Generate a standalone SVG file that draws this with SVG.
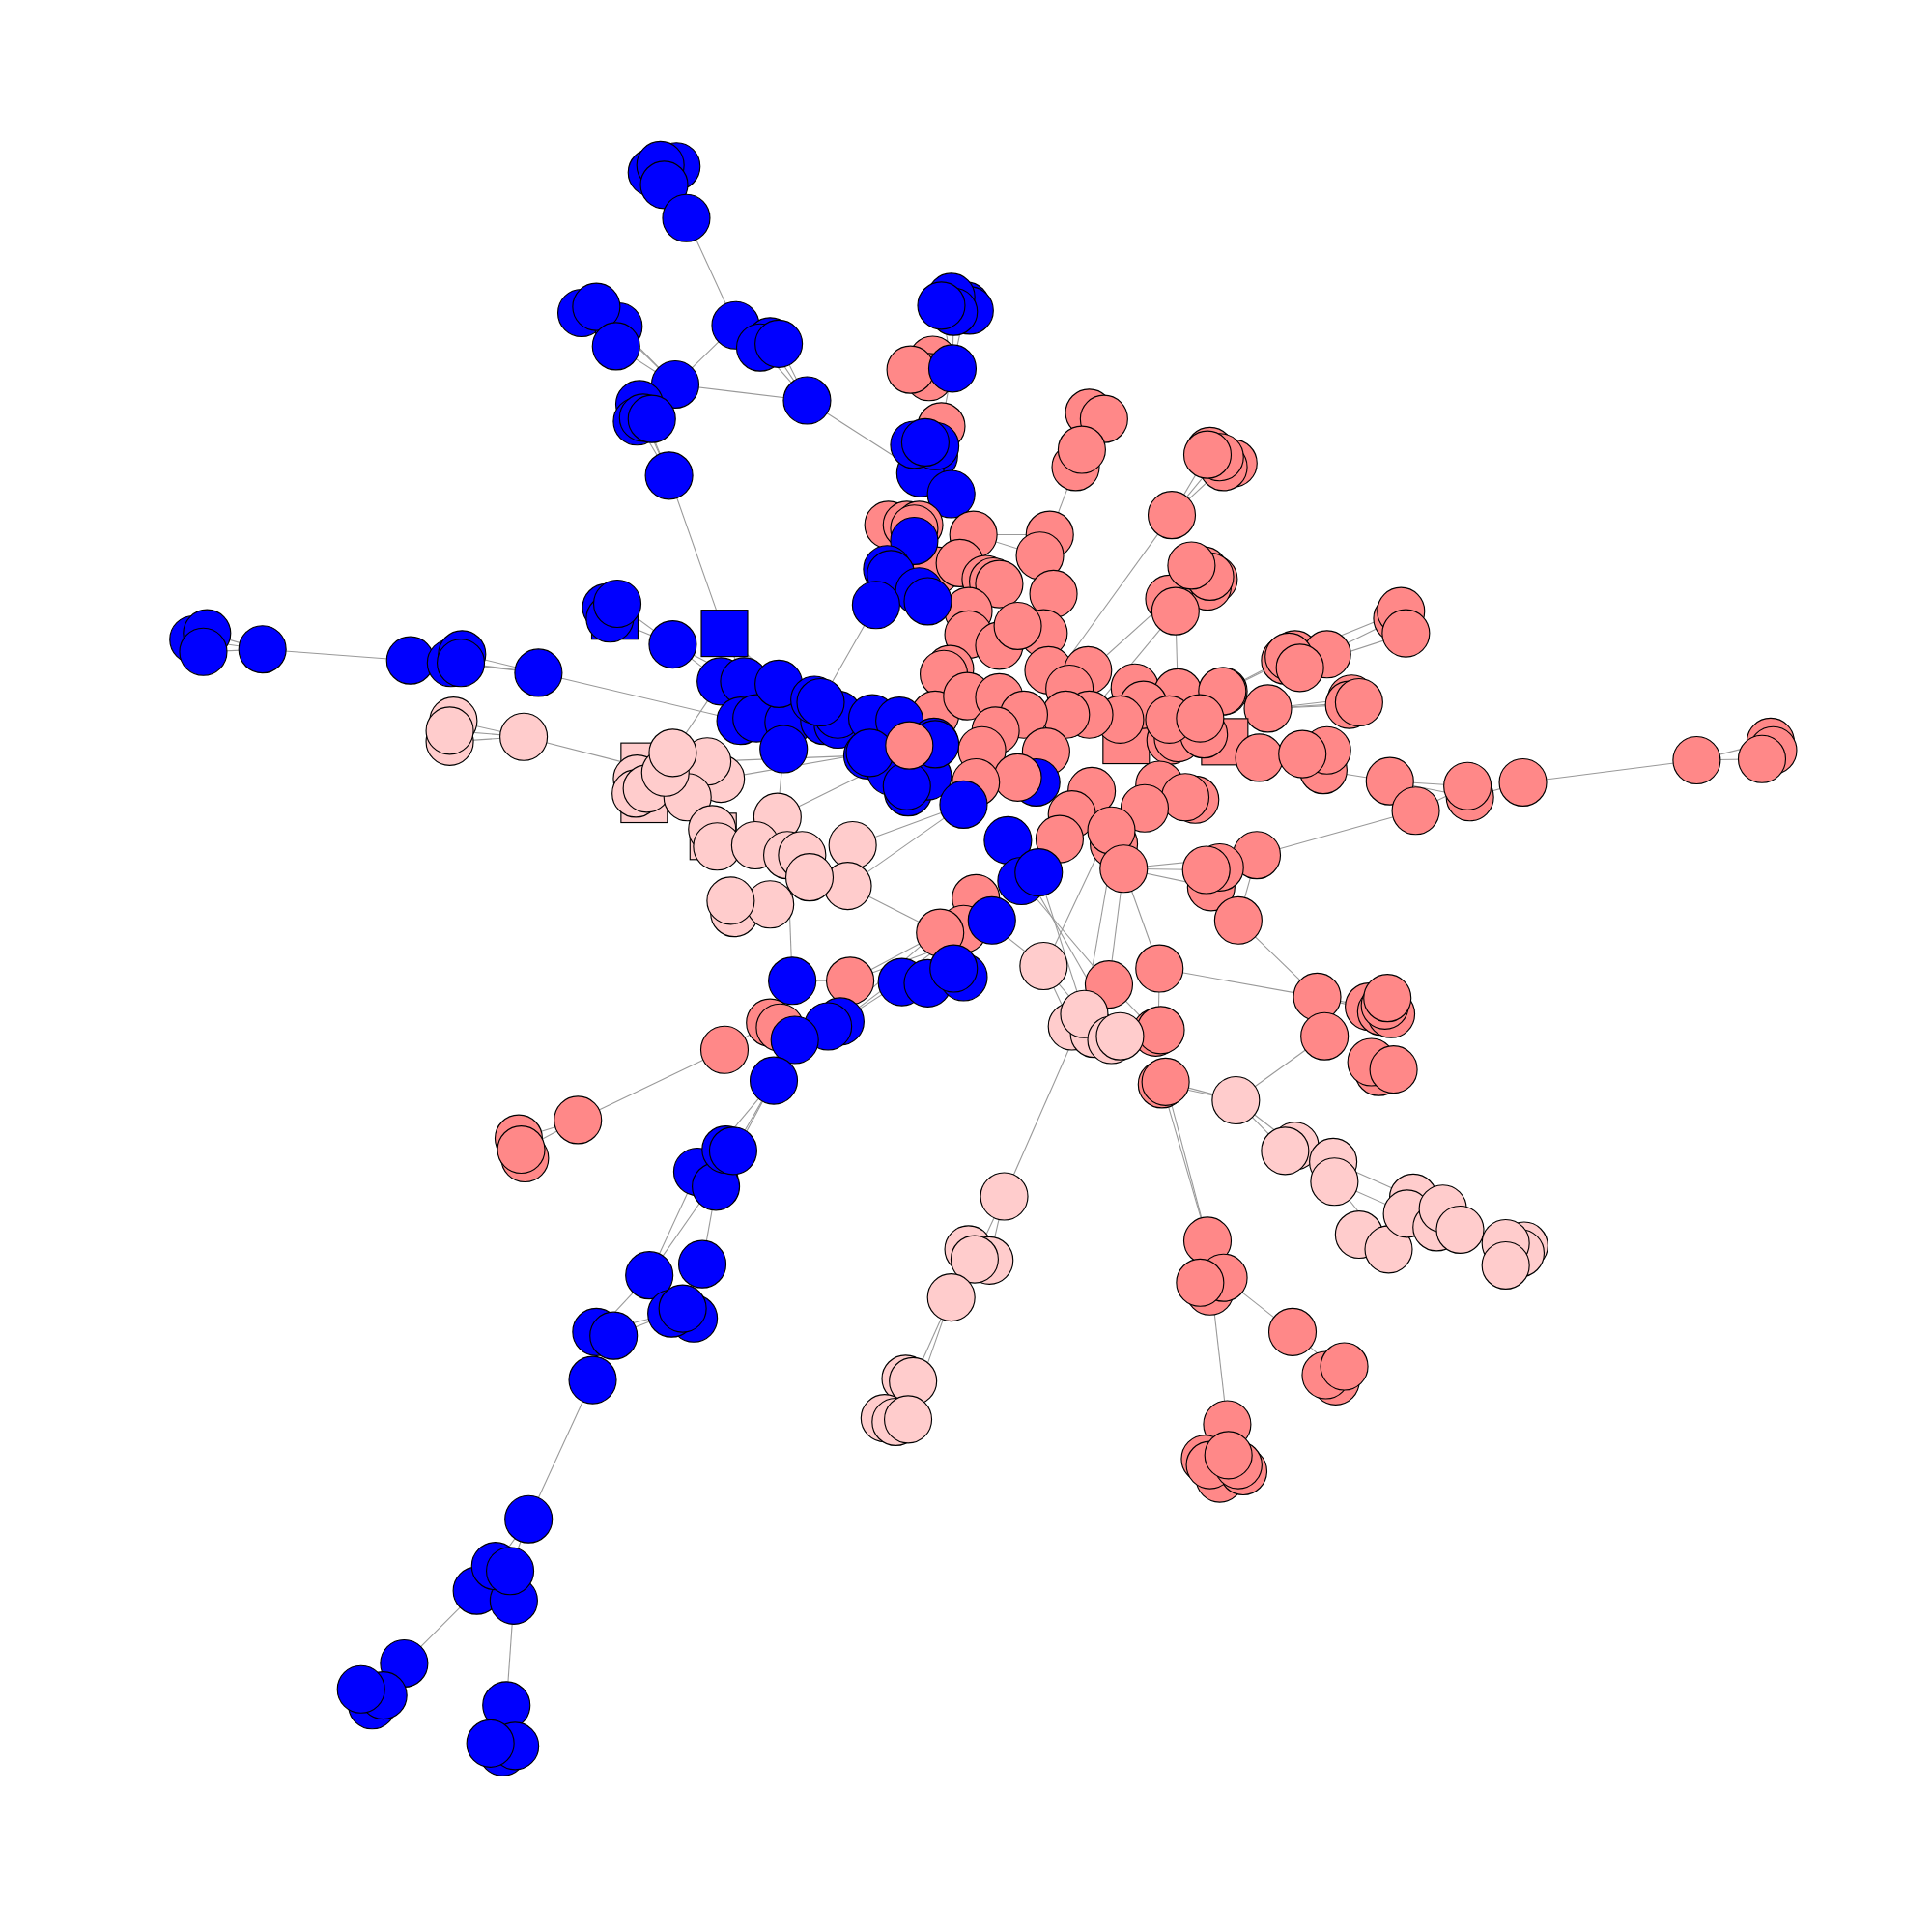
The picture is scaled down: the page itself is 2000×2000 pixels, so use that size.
<svg xmlns="http://www.w3.org/2000/svg" width="2000" height="2000" viewBox="0 0 2000 2000">
<style>
.b{fill:#0000ff;stroke:#000;stroke-width:0.9}
.s{fill:#ff8888;stroke:#000;stroke-width:0.9}
.p{fill:#ffcccc;stroke:#000;stroke-width:0.9}
#edges line{stroke:#999;stroke-width:0.85}
</style>
<rect width="2000" height="2000" fill="#fff"/>
<g transform="scale(1.27551)">
<g id="edges">
<line x1="557" y1="177" x2="597" y2="264"/><line x1="548" y1="312" x2="597" y2="264"/><line x1="548" y1="312" x2="655" y2="325"/>
<line x1="655" y1="325" x2="625" y2="280"/><line x1="655" y1="325" x2="632" y2="279"/><line x1="655" y1="325" x2="617" y2="282"/>
<line x1="655" y1="325" x2="747" y2="384"/>
<line x1="500" y1="281" x2="548" y2="312"/><line x1="502" y1="265" x2="548" y2="312"/><line x1="484" y1="249" x2="548" y2="312"/>
<line x1="519" y1="328" x2="543" y2="386"/><line x1="529" y1="340" x2="548" y2="312"/><line x1="517" y1="342" x2="543" y2="386"/><line x1="522" y1="339" x2="543" y2="386"/>
<line x1="543" y1="386" x2="588" y2="514"/>
<line x1="213" y1="527" x2="165" y2="529"/><line x1="213" y1="527" x2="168" y2="514"/><line x1="213" y1="527" x2="157" y2="519"/>
<line x1="213" y1="527" x2="333" y2="536"/>
<line x1="375" y1="531" x2="437" y2="546"/><line x1="366" y1="538" x2="437" y2="546"/><line x1="374" y1="538" x2="437" y2="546"/>
<line x1="437" y1="546" x2="601" y2="585"/>
<line x1="495" y1="502" x2="546" y2="523"/><line x1="501" y1="490" x2="546" y2="523"/>
<line x1="546" y1="523" x2="585" y2="553"/><line x1="546" y1="523" x2="604" y2="553"/><line x1="588" y1="514" x2="604" y2="553"/><line x1="588" y1="514" x2="632" y2="555"/>
<line x1="365" y1="593" x2="425" y2="598"/><line x1="368" y1="585" x2="425" y2="598"/><line x1="365" y1="602" x2="425" y2="598"/>
<line x1="425" y1="598" x2="519" y2="622"/>
<line x1="574" y1="618" x2="704" y2="613"/><line x1="585" y1="632" x2="706" y2="611"/><line x1="546" y1="611" x2="585" y2="553"/>
<line x1="631" y1="663" x2="706" y2="626"/>
<line x1="692" y1="686" x2="782" y2="653"/><line x1="688" y1="719" x2="782" y2="653"/>
<line x1="688" y1="719" x2="763" y2="757"/>
<line x1="636" y1="608" x2="631" y2="663"/>
<line x1="639" y1="694" x2="643" y2="796"/>
<line x1="643" y1="796" x2="690" y2="796"/>
<line x1="690" y1="796" x2="763" y2="757"/><line x1="690" y1="796" x2="789" y2="760"/><line x1="682" y1="829" x2="789" y2="760"/><line x1="672" y1="833" x2="792" y2="729"/><line x1="682" y1="829" x2="782" y2="754"/>
<line x1="628" y1="877" x2="645" y2="844"/><line x1="628" y1="877" x2="633" y2="834"/>
<line x1="588" y1="852" x2="625" y2="830"/><line x1="469" y1="909" x2="588" y2="852"/><line x1="426" y1="932" x2="469" y2="909"/><line x1="421" y1="924" x2="469" y2="909"/>
<line x1="595" y1="934" x2="628" y2="877"/><line x1="566" y1="951" x2="628" y2="877"/><line x1="581" y1="965" x2="628" y2="877"/>
<line x1="570" y1="1026" x2="581" y2="965"/><line x1="527" y1="1035" x2="580" y2="959"/><line x1="527" y1="1035" x2="566" y2="951"/>
<line x1="484" y1="1081" x2="545" y2="1066"/><line x1="498" y1="1084" x2="554" y2="1062"/><line x1="484" y1="1081" x2="527" y2="1035"/>
<line x1="481" y1="1120" x2="429" y2="1233"/>
<line x1="429" y1="1233" x2="402" y2="1271"/><line x1="429" y1="1233" x2="414" y2="1275"/>
<line x1="387" y1="1291" x2="328" y2="1350"/><line x1="328" y1="1350" x2="302" y2="1384"/><line x1="328" y1="1350" x2="293" y2="1371"/>
<line x1="417" y1="1299" x2="411" y2="1384"/><line x1="411" y1="1384" x2="398" y2="1415"/>
<line x1="711" y1="491" x2="666" y2="570"/>
<line x1="772" y1="401" x2="742" y2="439"/>
<line x1="764" y1="248" x2="773" y2="299"/><line x1="774" y1="253" x2="773" y2="299"/><line x1="784" y1="248" x2="773" y2="299"/>
<line x1="773" y1="299" x2="764" y2="346"/><line x1="764" y1="346" x2="751" y2="359"/>
<line x1="951" y1="418" x2="982" y2="366"/><line x1="951" y1="418" x2="993" y2="379"/><line x1="951" y1="418" x2="990" y2="371"/>
<line x1="951" y1="418" x2="870" y2="530"/>
<line x1="873" y1="379" x2="852" y2="434"/>
<line x1="954" y1="496" x2="884" y2="580"/><line x1="949" y1="486" x2="868" y2="559"/><line x1="954" y1="496" x2="956" y2="562"/>
<line x1="1134" y1="502" x2="1053" y2="542"/><line x1="1141" y1="514" x2="1055" y2="542"/><line x1="1137" y1="496" x2="1051" y2="531"/>
<line x1="1097" y1="567" x2="1029" y2="575"/><line x1="1103" y1="570" x2="1029" y2="575"/><line x1="1095" y1="572" x2="1029" y2="575"/>
<line x1="1046" y1="533" x2="992" y2="561"/><line x1="1043" y1="536" x2="993" y2="561"/>
<line x1="1128" y1="634" x2="1022" y2="617"/>
<line x1="1128" y1="634" x2="1191" y2="638"/><line x1="1128" y1="634" x2="1193" y2="647"/><line x1="1149" y1="658" x2="1191" y2="638"/>
<line x1="1236" y1="635" x2="1377" y2="617"/>
<line x1="1377" y1="617" x2="1437" y2="602"/><line x1="1377" y1="617" x2="1430" y2="616"/>
<line x1="1236" y1="635" x2="1193" y2="647"/>
<line x1="1149" y1="658" x2="1020" y2="694"/>
<line x1="1020" y1="694" x2="912" y2="705"/><line x1="1020" y1="694" x2="1005" y2="747"/>
<line x1="912" y1="705" x2="979" y2="706"/><line x1="912" y1="705" x2="983" y2="720"/>
<line x1="1005" y1="747" x2="1069" y2="809"/>
<line x1="941" y1="786" x2="1069" y2="809"/>
<line x1="1069" y1="809" x2="1111" y2="817"/><line x1="1069" y1="809" x2="1124" y2="823"/>
<line x1="1075" y1="841" x2="1003" y2="893"/>
<line x1="1003" y1="893" x2="946" y2="878"/><line x1="1003" y1="893" x2="943" y2="880"/>
<line x1="1003" y1="893" x2="1043" y2="934"/><line x1="1003" y1="893" x2="1051" y2="930"/>
<line x1="1083" y1="959" x2="1142" y2="985"/><line x1="1082" y1="943" x2="1147" y2="972"/><line x1="1083" y1="959" x2="1127" y2="1014"/>
<line x1="1185" y1="998" x2="1222" y2="1009"/><line x1="1185" y1="998" x2="1234" y2="1017"/>
<line x1="946" y1="878" x2="980" y2="1007"/><line x1="943" y1="880" x2="980" y2="1007"/>
<line x1="980" y1="1007" x2="983" y2="1043"/>
<line x1="993" y1="1037" x2="1049" y2="1081"/><line x1="1049" y1="1081" x2="1084" y2="1111"/>
<line x1="983" y1="1043" x2="996" y2="1156"/>
<line x1="815" y1="971" x2="880" y2="823"/>
<line x1="815" y1="971" x2="791" y2="1022"/><line x1="815" y1="971" x2="803" y2="1023"/>
<line x1="791" y1="1024" x2="772" y2="1052"/>
<line x1="772" y1="1052" x2="741" y2="1121"/><line x1="772" y1="1052" x2="737" y2="1152"/>
<line x1="847" y1="784" x2="880" y2="823"/><line x1="847" y1="784" x2="870" y2="833"/>
<line x1="847" y1="784" x2="805" y2="751"/>
<line x1="912" y1="705" x2="900" y2="799"/><line x1="912" y1="705" x2="941" y2="786"/>
<line x1="843" y1="708" x2="880" y2="823"/><line x1="829" y1="715" x2="900" y2="799"/><line x1="818" y1="682" x2="909" y2="841"/>
<line x1="900" y1="674" x2="850" y2="780"/>
<line x1="904" y1="685" x2="880" y2="823"/>
<line x1="941" y1="786" x2="940" y2="840"/>
<line x1="900" y1="798" x2="938" y2="838"/>
<line x1="1004" y1="747" x2="983" y2="720"/>
<line x1="852" y1="434" x2="790" y2="434"/><line x1="844" y1="451" x2="790" y2="434"/>
</g>
<g id="n1"><circle class="b" cx="529" cy="140" r="19.2"/></g>
<g id="n2"><circle class="b" cx="549" cy="135" r="19.2"/></g>
<g id="n3"><circle class="b" cx="536" cy="134" r="19.2"/></g>
<g id="n4"><circle class="b" cx="539" cy="150" r="19.2"/></g>
<g id="n5"><circle class="b" cx="557" cy="177" r="19.2"/></g>
<g id="n6"><circle class="b" cx="597" cy="264" r="19.2"/></g>
<g id="n7"><circle class="b" cx="625" cy="277" r="19.2"/></g>
<g id="n8"><circle class="b" cx="617" cy="282" r="19.2"/></g>
<g id="n9"><circle class="b" cx="632" cy="279" r="19.2"/></g>
<g id="n10"><circle class="b" cx="655" cy="325" r="19.2"/></g>
<g id="n11"><circle class="b" cx="472" cy="254" r="19.2"/></g>
<g id="n12"><circle class="b" cx="502" cy="265" r="19.2"/></g>
<g id="n13"><circle class="b" cx="484" cy="249" r="19.2"/></g>
<g id="n14"><circle class="b" cx="500" cy="281" r="19.2"/></g>
<g id="n15"><circle class="b" cx="548" cy="312" r="19.2"/></g>
<g id="n16"><circle class="b" cx="519" cy="328" r="19.2"/></g>
<g id="n17"><circle class="b" cx="517" cy="342" r="19.2"/></g>
<g id="n18"><circle class="b" cx="522" cy="339" r="19.2"/></g>
<g id="n19"><circle class="b" cx="529" cy="340" r="19.2"/></g>
<g id="n20"><circle class="b" cx="543" cy="386" r="19.2"/></g>
<g id="n21"><circle class="b" cx="784" cy="248" r="19.2"/></g>
<g id="n22"><circle class="b" cx="787" cy="252" r="19.2"/></g>
<g id="n23"><circle class="b" cx="772" cy="241" r="19.2"/></g>
<g id="n24"><circle class="b" cx="774" cy="253" r="19.2"/></g>
<g id="n25"><circle class="b" cx="764" cy="248" r="19.2"/></g>
<g id="n26"><circle class="s" cx="757" cy="292" r="19.2"/></g>
<g id="n27"><circle class="s" cx="754" cy="306" r="19.2"/></g>
<g id="n28"><circle class="s" cx="739" cy="300" r="19.2"/></g>
<g id="n29"><circle class="b" cx="773" cy="299" r="19.2"/></g>
<g id="n30"><circle class="s" cx="764" cy="346" r="19.2"/></g>
<g id="n31"><circle class="b" cx="758" cy="370" r="19.2"/></g>
<g id="n32"><circle class="b" cx="747" cy="384" r="19.2"/></g>
<g id="n33"><circle class="b" cx="759" cy="362" r="19.2"/></g>
<g id="n34"><circle class="b" cx="742" cy="361" r="19.2"/></g>
<g id="n35"><circle class="b" cx="751" cy="359" r="19.2"/></g>
<g id="n36"><circle class="b" cx="772" cy="401" r="19.2"/></g>
<g id="n37"><circle class="s" cx="884" cy="335" r="19.2"/></g>
<g id="n38"><circle class="s" cx="896" cy="340" r="19.2"/></g>
<g id="n39"><circle class="s" cx="873" cy="379" r="19.2"/></g>
<g id="n40"><circle class="s" cx="878" cy="365" r="19.2"/></g>
<g id="n41"><circle class="s" cx="982" cy="366" r="19.2"/></g>
<g id="n42"><circle class="s" cx="1001" cy="376" r="19.2"/></g>
<g id="n43"><circle class="s" cx="993" cy="379" r="19.2"/></g>
<g id="n44"><circle class="s" cx="990" cy="371" r="19.2"/></g>
<g id="n45"><circle class="s" cx="980" cy="369" r="19.2"/></g>
<g id="n46"><circle class="s" cx="951" cy="418" r="19.2"/></g>
<g id="n47"><circle class="s" cx="977" cy="463" r="19.2"/></g>
<g id="n48"><circle class="s" cx="985" cy="470" r="19.2"/></g>
<g id="n49"><circle class="s" cx="980" cy="476" r="19.2"/></g>
<g id="n50"><circle class="s" cx="949" cy="486" r="19.2"/></g>
<g id="n51"><circle class="s" cx="954" cy="496" r="19.2"/></g>
<g id="n52"><circle class="s" cx="982" cy="468" r="19.2"/></g>
<g id="n53"><circle class="s" cx="967" cy="459" r="19.2"/></g>
<g id="n54"><circle class="s" cx="1134" cy="502" r="19.2"/></g>
<g id="n55"><circle class="s" cx="1137" cy="496" r="19.2"/></g>
<g id="n56"><circle class="s" cx="1141" cy="514" r="19.2"/></g>
<g id="n57"><circle class="s" cx="721" cy="426" r="19.2"/></g>
<g id="n58"><circle class="s" cx="736" cy="426" r="19.2"/></g>
<g id="n59"><circle class="s" cx="746" cy="426" r="19.2"/></g>
<g id="n60"><circle class="s" cx="742" cy="429" r="19.2"/></g>
<g id="n61"><circle class="s" cx="790" cy="434" r="19.2"/></g>
<g id="n62"><circle class="s" cx="760" cy="463" r="19.2"/></g>
<g id="n63"><circle class="s" cx="779" cy="457" r="19.2"/></g>
<g id="n64"><circle class="s" cx="852" cy="434" r="19.2"/></g>
<g id="n65"><circle class="s" cx="844" cy="451" r="19.2"/></g>
<g id="n66"><circle class="s" cx="800" cy="470" r="19.2"/></g>
<g id="n67"><circle class="s" cx="806" cy="472" r="19.2"/></g>
<g id="n68"><circle class="s" cx="811" cy="474" r="19.2"/></g>
<g id="n69"><circle class="s" cx="855" cy="482" r="19.2"/></g>
<g id="n70"><circle class="s" cx="786" cy="496" r="19.2"/></g>
<g id="n71"><circle class="s" cx="786" cy="515" r="19.2"/></g>
<g id="n72"><circle class="s" cx="847" cy="514" r="19.2"/></g>
<g id="n73"><circle class="s" cx="811" cy="524" r="19.2"/></g>
<g id="n74"><circle class="s" cx="826" cy="508" r="19.2"/></g>
<g id="n75"><circle class="b" cx="742" cy="439" r="19.2"/></g>
<g id="n76"><circle class="b" cx="720" cy="462" r="19.2"/></g>
<g id="n77"><circle class="b" cx="723" cy="466" r="19.2"/></g>
<g id="n78"><circle class="b" cx="746" cy="480" r="19.2"/></g>
<g id="n79"><circle class="b" cx="753" cy="488" r="19.2"/></g>
<g id="n80"><circle class="b" cx="711" cy="491" r="19.2"/></g>
<g id="n81"><circle class="s" cx="1051" cy="531" r="19.2"/></g>
<g id="n82"><circle class="s" cx="1077" cy="531" r="19.2"/></g>
<g id="n83"><circle class="s" cx="1043" cy="536" r="19.2"/></g>
<g id="n84"><circle class="s" cx="1046" cy="533" r="19.2"/></g>
<g id="n85"><circle class="s" cx="1055" cy="542" r="19.2"/></g>
<g id="n86"><circle class="s" cx="1097" cy="567" r="19.2"/></g>
<g id="n87"><circle class="s" cx="1095" cy="572" r="19.2"/></g>
<g id="n88"><circle class="s" cx="1103" cy="570" r="19.2"/></g>
<g id="n89"><circle class="s" cx="1029" cy="575" r="19.2"/></g>
<g id="n90"><circle class="s" cx="993" cy="561" r="19.2"/></g>
<g id="n91"><rect class="s" x="895.2" y="582.2" width="37.6" height="37.6"/></g>
<g id="n92"><rect class="s" x="975.2" y="583.2" width="37.6" height="37.6"/></g>
<g id="n93"><circle class="s" cx="1022" cy="615" r="19.2"/></g>
<g id="n94"><circle class="s" cx="1074" cy="625" r="19.2"/></g>
<g id="n95"><circle class="s" cx="1077" cy="609" r="19.2"/></g>
<g id="n96"><circle class="s" cx="1057" cy="612" r="19.2"/></g>
<g id="n97"><circle class="s" cx="1128" cy="634" r="19.2"/></g>
<g id="n98"><circle class="s" cx="1149" cy="658" r="19.2"/></g>
<g id="n99"><circle class="s" cx="1193" cy="647" r="19.2"/></g>
<g id="n100"><circle class="s" cx="1191" cy="638" r="19.2"/></g>
<g id="n101"><circle class="s" cx="1236" cy="635" r="19.2"/></g>
<g id="n102"><circle class="s" cx="1377" cy="617" r="19.2"/></g>
<g id="n103"><circle class="s" cx="1437" cy="602" r="19.2"/></g>
<g id="n104"><circle class="s" cx="1439" cy="609" r="19.2"/></g>
<g id="n105"><circle class="s" cx="1430" cy="616" r="19.2"/></g>
<g id="n106"><circle class="s" cx="771" cy="543" r="19.2"/></g>
<g id="n107"><circle class="s" cx="766" cy="547" r="19.2"/></g>
<g id="n108"><circle class="s" cx="759" cy="580" r="19.2"/></g>
<g id="n109"><circle class="s" cx="785" cy="565" r="19.2"/></g>
<g id="n110"><circle class="s" cx="811" cy="566" r="19.2"/></g>
<g id="n111"><circle class="s" cx="851" cy="544" r="19.2"/></g>
<g id="n112"><circle class="s" cx="883" cy="544" r="19.2"/></g>
<g id="n113"><circle class="s" cx="868" cy="559" r="19.2"/></g>
<g id="n114"><circle class="s" cx="921" cy="558" r="19.2"/></g>
<g id="n115"><circle class="s" cx="956" cy="562" r="19.2"/></g>
<g id="n116"><circle class="s" cx="992" cy="561" r="19.2"/></g>
<g id="n117"><circle class="s" cx="928" cy="572" r="19.2"/></g>
<g id="n118"><circle class="s" cx="950" cy="601" r="19.2"/></g>
<g id="n119"><circle class="s" cx="956" cy="599" r="19.2"/></g>
<g id="n120"><circle class="s" cx="977" cy="596" r="19.2"/></g>
<g id="n121"><circle class="s" cx="909" cy="584" r="19.2"/></g>
<g id="n122"><circle class="s" cx="949" cy="584" r="19.2"/></g>
<g id="n123"><circle class="s" cx="974" cy="583" r="19.2"/></g>
<g id="n124"><circle class="s" cx="884" cy="580" r="19.2"/></g>
<g id="n125"><circle class="s" cx="865" cy="580" r="19.2"/></g>
<g id="n126"><circle class="s" cx="831" cy="580" r="19.2"/></g>
<g id="n127"><circle class="s" cx="808" cy="593" r="19.2"/></g>
<g id="n128"><circle class="s" cx="797" cy="609" r="19.2"/></g>
<g id="n129"><circle class="s" cx="849" cy="610" r="19.2"/></g>
<g id="n130"><circle class="b" cx="841" cy="635" r="19.2"/></g>
<g id="n131"><circle class="s" cx="826" cy="631" r="19.2"/></g>
<g id="n132"><circle class="s" cx="792" cy="635" r="19.2"/></g>
<g id="n133"><circle class="s" cx="886" cy="642" r="19.2"/></g>
<g id="n134"><circle class="s" cx="941" cy="637" r="19.2"/></g>
<g id="n135"><circle class="s" cx="970" cy="649" r="19.2"/></g>
<g id="n136"><circle class="s" cx="962" cy="647" r="19.2"/></g>
<g id="n137"><circle class="s" cx="929" cy="656" r="19.2"/></g>
<g id="n138"><circle class="s" cx="870" cy="661" r="19.2"/></g>
<g id="n139"><circle class="s" cx="860" cy="681" r="19.2"/></g>
<g id="n140"><circle class="s" cx="904" cy="685" r="19.2"/></g>
<g id="n141"><circle class="s" cx="902" cy="674" r="19.2"/></g>
<g id="n142"><circle class="s" cx="1020" cy="694" r="19.2"/></g>
<g id="n143"><circle class="s" cx="983" cy="720" r="19.2"/></g>
<g id="n144"><circle class="s" cx="990" cy="704" r="19.2"/></g>
<g id="n145"><circle class="s" cx="979" cy="706" r="19.2"/></g>
<g id="n146"><circle class="s" cx="912" cy="705" r="19.2"/></g>
<g id="n147"><circle class="s" cx="1005" cy="747" r="19.2"/></g>
<g id="n148"><circle class="b" cx="585" cy="553" r="19.2"/></g>
<g id="n149"><circle class="b" cx="604" cy="553" r="19.2"/></g>
<g id="n150"><circle class="b" cx="601" cy="585" r="19.2"/></g>
<g id="n151"><circle class="b" cx="614" cy="583" r="19.2"/></g>
<g id="n152"><circle class="b" cx="640" cy="586" r="19.2"/></g>
<g id="n153"><circle class="b" cx="632" cy="555" r="19.2"/></g>
<g id="n154"><circle class="b" cx="669" cy="585" r="19.2"/></g>
<g id="n155"><circle class="b" cx="661" cy="568" r="19.2"/></g>
<g id="n156"><circle class="b" cx="680" cy="588" r="19.2"/></g>
<g id="n157"><circle class="b" cx="680" cy="580" r="19.2"/></g>
<g id="n158"><circle class="b" cx="636" cy="608" r="19.2"/></g>
<g id="n159"><circle class="b" cx="666" cy="570" r="19.2"/></g>
<g id="n160"><circle class="b" cx="708" cy="583" r="19.2"/></g>
<g id="n161"><circle class="b" cx="730" cy="585" r="19.2"/></g>
<g id="n162"><circle class="b" cx="737" cy="643" r="19.2"/></g>
<g id="n163"><circle class="b" cx="753" cy="630" r="19.2"/></g>
<g id="n164"><circle class="b" cx="704" cy="613" r="19.2"/></g>
<g id="n165"><circle class="b" cx="723" cy="626" r="19.2"/></g>
<g id="n166"><circle class="b" cx="736" cy="638" r="19.2"/></g>
<g id="n167"><circle class="b" cx="706" cy="611" r="19.2"/></g>
<g id="n168"><circle class="b" cx="758" cy="602" r="19.2"/></g>
<g id="n169"><circle class="b" cx="759" cy="604" r="19.2"/></g>
<g id="n170"><circle class="s" cx="738" cy="605" r="19.2"/></g>
<g id="n171"><circle class="b" cx="782" cy="653" r="19.2"/></g>
<g id="n172"><circle class="b" cx="818" cy="682" r="19.2"/></g>
<g id="n173"><circle class="b" cx="829" cy="715" r="19.2"/></g>
<g id="n174"><circle class="b" cx="843" cy="708" r="19.2"/></g>
<g id="n175"><circle class="s" cx="792" cy="729" r="19.2"/></g>
<g id="n176"><circle class="s" cx="782" cy="754" r="19.2"/></g>
<g id="n177"><circle class="s" cx="763" cy="757" r="19.2"/></g>
<g id="n178"><circle class="b" cx="805" cy="747" r="19.2"/></g>
<g id="n179"><circle class="b" cx="157" cy="519" r="19.2"/></g>
<g id="n180"><circle class="b" cx="168" cy="514" r="19.2"/></g>
<g id="n181"><circle class="b" cx="165" cy="529" r="19.2"/></g>
<g id="n182"><circle class="b" cx="213" cy="527" r="19.2"/></g>
<g id="n183"><circle class="b" cx="333" cy="536" r="19.2"/></g>
<g id="n184"><circle class="b" cx="366" cy="538" r="19.2"/></g>
<g id="n185"><circle class="b" cx="375" cy="531" r="19.2"/></g>
<g id="n186"><circle class="b" cx="374" cy="538" r="19.2"/></g>
<g id="n187"><circle class="b" cx="437" cy="546" r="19.2"/></g>
<g id="n188"><rect class="b" x="480.2" y="481.2" width="37.6" height="37.6"/></g>
<g id="n189"><circle class="b" cx="492" cy="493" r="19.2"/></g>
<g id="n190"><circle class="b" cx="495" cy="502" r="19.2"/></g>
<g id="n191"><circle class="b" cx="501" cy="490" r="19.2"/></g>
<g id="n192"><circle class="b" cx="546" cy="523" r="19.2"/></g>
<g id="n193"><rect class="b" x="569.2" y="495.2" width="37.6" height="37.6"/></g>
<g id="n194"><circle class="p" cx="368" cy="585" r="19.2"/></g>
<g id="n195"><circle class="p" cx="365" cy="602" r="19.2"/></g>
<g id="n196"><circle class="p" cx="365" cy="593" r="19.2"/></g>
<g id="n197"><circle class="p" cx="425" cy="598" r="19.2"/></g>
<g id="n198"><rect class="p" x="504" y="603" width="37.6" height="37.6"/></g>
<g id="n199"><rect class="p" x="504" y="630" width="37.6" height="37.6"/></g>
<g id="n200"><rect class="p" x="560" y="660" width="37.6" height="37.6"/></g>
<g id="n201"><circle class="p" cx="517" cy="632" r="19.2"/></g>
<g id="n202"><circle class="p" cx="516" cy="644" r="19.2"/></g>
<g id="n203"><circle class="p" cx="525" cy="640" r="19.2"/></g>
<g id="n204"><circle class="p" cx="585" cy="632" r="19.2"/></g>
<g id="n205"><circle class="p" cx="574" cy="618" r="19.2"/></g>
<g id="n206"><circle class="p" cx="558" cy="647" r="19.2"/></g>
<g id="n207"><circle class="p" cx="540" cy="627" r="19.2"/></g>
<g id="n208"><circle class="p" cx="546" cy="611" r="19.2"/></g>
<g id="n209"><circle class="p" cx="631" cy="663" r="19.2"/></g>
<g id="n210"><circle class="p" cx="578" cy="673" r="19.2"/></g>
<g id="n211"><circle class="p" cx="582" cy="687" r="19.2"/></g>
<g id="n212"><circle class="p" cx="613" cy="686" r="19.2"/></g>
<g id="n213"><circle class="p" cx="692" cy="686" r="19.2"/></g>
<g id="n214"><circle class="p" cx="688" cy="719" r="19.2"/></g>
<g id="n215"><circle class="p" cx="639" cy="694" r="19.2"/></g>
<g id="n216"><circle class="p" cx="651" cy="694" r="19.2"/></g>
<g id="n217"><circle class="p" cx="657" cy="712" r="19.2"/></g>
<g id="n218"><circle class="p" cx="596" cy="741" r="19.2"/></g>
<g id="n219"><circle class="p" cx="625" cy="734" r="19.2"/></g>
<g id="n220"><circle class="p" cx="593" cy="731" r="19.2"/></g>
<g id="n221"><circle class="s" cx="421" cy="924" r="19.2"/></g>
<g id="n222"><circle class="s" cx="426" cy="940" r="19.2"/></g>
<g id="n223"><circle class="s" cx="423" cy="933" r="19.2"/></g>
<g id="n224"><circle class="s" cx="469" cy="909" r="19.2"/></g>
<g id="n225"><circle class="s" cx="588" cy="852" r="19.2"/></g>
<g id="n226"><circle class="s" cx="625" cy="830" r="19.2"/></g>
<g id="n227"><circle class="s" cx="633" cy="834" r="19.2"/></g>
<g id="n228"><circle class="b" cx="643" cy="796" r="19.2"/></g>
<g id="n229"><circle class="s" cx="690" cy="796" r="19.2"/></g>
<g id="n230"><circle class="b" cx="732" cy="797" r="19.2"/></g>
<g id="n231"><circle class="b" cx="753" cy="798" r="19.2"/></g>
<g id="n232"><circle class="b" cx="782" cy="793" r="19.2"/></g>
<g id="n233"><circle class="b" cx="774" cy="786" r="19.2"/></g>
<g id="n234"><circle class="b" cx="682" cy="829" r="19.2"/></g>
<g id="n235"><circle class="b" cx="672" cy="833" r="19.2"/></g>
<g id="n236"><circle class="b" cx="645" cy="844" r="19.2"/></g>
<g id="n237"><circle class="b" cx="628" cy="877" r="19.2"/></g>
<g id="n238"><circle class="b" cx="580" cy="959" r="19.2"/></g>
<g id="n239"><circle class="b" cx="566" cy="951" r="19.2"/></g>
<g id="n240"><circle class="b" cx="581" cy="963" r="19.2"/></g>
<g id="n241"><circle class="b" cx="589" cy="933" r="19.2"/></g>
<g id="n242"><circle class="b" cx="595" cy="934" r="19.2"/></g>
<g id="n243"><circle class="b" cx="570" cy="1026" r="19.2"/></g>
<g id="n244"><circle class="b" cx="527" cy="1035" r="19.2"/></g>
<g id="n245"><circle class="b" cx="563" cy="1070" r="19.2"/></g>
<g id="n246"><circle class="b" cx="545" cy="1066" r="19.2"/></g>
<g id="n247"><circle class="b" cx="554" cy="1062" r="19.2"/></g>
<g id="n248"><circle class="b" cx="484" cy="1081" r="19.2"/></g>
<g id="n249"><circle class="b" cx="498" cy="1084" r="19.2"/></g>
<g id="n250"><circle class="b" cx="481" cy="1120" r="19.2"/></g>
<g id="n251"><circle class="b" cx="429" cy="1233" r="19.2"/></g>
<g id="n252"><circle class="b" cx="387" cy="1291" r="19.2"/></g>
<g id="n253"><circle class="b" cx="417" cy="1299" r="19.2"/></g>
<g id="n254"><circle class="b" cx="402" cy="1271" r="19.2"/></g>
<g id="n255"><circle class="b" cx="414" cy="1275" r="19.2"/></g>
<g id="n256"><circle class="b" cx="328" cy="1350" r="19.2"/></g>
<g id="n257"><circle class="b" cx="302" cy="1384" r="19.2"/></g>
<g id="n258"><circle class="b" cx="311" cy="1376" r="19.2"/></g>
<g id="n259"><circle class="b" cx="293" cy="1371" r="19.2"/></g>
<g id="n260"><circle class="b" cx="411" cy="1384" r="19.2"/></g>
<g id="n261"><circle class="b" cx="408" cy="1422" r="19.2"/></g>
<g id="n262"><circle class="b" cx="418" cy="1417" r="19.2"/></g>
<g id="n263"><circle class="b" cx="398" cy="1415" r="19.2"/></g>
<g id="n264"><circle class="p" cx="847" cy="784" r="19.2"/></g>
<g id="n265"><circle class="s" cx="900" cy="799" r="19.2"/></g>
<g id="n266"><circle class="s" cx="941" cy="786" r="19.2"/></g>
<g id="n267"><circle class="p" cx="870" cy="833" r="19.2"/></g>
<g id="n268"><circle class="p" cx="888" cy="839" r="19.2"/></g>
<g id="n269"><circle class="p" cx="880" cy="823" r="19.2"/></g>
<g id="n270"><circle class="s" cx="938" cy="838" r="19.2"/></g>
<g id="n271"><circle class="s" cx="942" cy="836" r="19.2"/></g>
<g id="n272"><circle class="p" cx="902" cy="844" r="19.2"/></g>
<g id="n273"><circle class="p" cx="909" cy="841" r="19.2"/></g>
<g id="n274"><circle class="s" cx="943" cy="880" r="19.2"/></g>
<g id="n275"><circle class="s" cx="946" cy="878" r="19.2"/></g>
<g id="n276"><circle class="s" cx="1069" cy="809" r="19.2"/></g>
<g id="n277"><circle class="s" cx="1075" cy="841" r="19.2"/></g>
<g id="n278"><circle class="s" cx="1111" cy="817" r="19.2"/></g>
<g id="n279"><circle class="s" cx="1121" cy="821" r="19.2"/></g>
<g id="n280"><circle class="s" cx="1129" cy="823" r="19.2"/></g>
<g id="n281"><circle class="s" cx="1124" cy="816" r="19.2"/></g>
<g id="n282"><circle class="s" cx="1126" cy="810" r="19.2"/></g>
<g id="n283"><circle class="s" cx="1119" cy="870" r="19.2"/></g>
<g id="n284"><circle class="s" cx="1113" cy="862" r="19.2"/></g>
<g id="n285"><circle class="s" cx="1131" cy="868" r="19.2"/></g>
<g id="n286"><circle class="p" cx="1003" cy="893" r="19.2"/></g>
<g id="n287"><circle class="p" cx="1051" cy="930" r="19.2"/></g>
<g id="n288"><circle class="p" cx="1043" cy="934" r="19.2"/></g>
<g id="n289"><circle class="p" cx="1082" cy="943" r="19.2"/></g>
<g id="n290"><circle class="p" cx="1083" cy="959" r="19.2"/></g>
<g id="n291"><circle class="p" cx="1103" cy="1002" r="19.2"/></g>
<g id="n292"><circle class="p" cx="1127" cy="1014" r="19.2"/></g>
<g id="n293"><circle class="p" cx="1147" cy="972" r="19.2"/></g>
<g id="n294"><circle class="p" cx="1142" cy="985" r="19.2"/></g>
<g id="n295"><circle class="p" cx="1166" cy="996" r="19.2"/></g>
<g id="n296"><circle class="p" cx="1171" cy="981" r="19.2"/></g>
<g id="n297"><circle class="p" cx="1185" cy="998" r="19.2"/></g>
<g id="n298"><circle class="p" cx="1237" cy="1011" r="19.2"/></g>
<g id="n299"><circle class="p" cx="1234" cy="1017" r="19.2"/></g>
<g id="n300"><circle class="p" cx="1222" cy="1009" r="19.2"/></g>
<g id="n301"><circle class="p" cx="1222" cy="1027" r="19.2"/></g>
<g id="n302"><circle class="s" cx="980" cy="1007" r="19.2"/></g>
<g id="n303"><circle class="s" cx="982" cy="1048" r="19.2"/></g>
<g id="n304"><circle class="s" cx="993" cy="1037" r="19.2"/></g>
<g id="n305"><circle class="s" cx="974" cy="1041" r="19.2"/></g>
<g id="n306"><circle class="s" cx="1049" cy="1081" r="19.2"/></g>
<g id="n307"><circle class="s" cx="1084" cy="1121" r="19.2"/></g>
<g id="n308"><circle class="s" cx="1076" cy="1116" r="19.2"/></g>
<g id="n309"><circle class="s" cx="1091" cy="1109" r="19.2"/></g>
<g id="n310"><circle class="s" cx="996" cy="1156" r="19.2"/></g>
<g id="n311"><circle class="s" cx="990" cy="1200" r="19.2"/></g>
<g id="n312"><circle class="s" cx="1009" cy="1194" r="19.2"/></g>
<g id="n313"><circle class="s" cx="978" cy="1184" r="19.2"/></g>
<g id="n314"><circle class="s" cx="982" cy="1189" r="19.2"/></g>
<g id="n315"><circle class="s" cx="1005" cy="1189" r="19.2"/></g>
<g id="n316"><circle class="s" cx="997" cy="1181" r="19.2"/></g>
<g id="n317"><circle class="p" cx="815" cy="971" r="19.2"/></g>
<g id="n318"><circle class="p" cx="786" cy="1014" r="19.2"/></g>
<g id="n319"><circle class="p" cx="803" cy="1023" r="19.2"/></g>
<g id="n320"><circle class="p" cx="791" cy="1022" r="19.2"/></g>
<g id="n321"><circle class="p" cx="772" cy="1053" r="19.2"/></g>
<g id="n322"><circle class="p" cx="735" cy="1119" r="19.2"/></g>
<g id="n323"><circle class="p" cx="741" cy="1121" r="19.2"/></g>
<g id="n324"><circle class="p" cx="718" cy="1151" r="19.2"/></g>
<g id="n325"><circle class="p" cx="727" cy="1154" r="19.2"/></g>
<g id="n326"><circle class="p" cx="737" cy="1152" r="19.2"/></g>
</g>
</svg>
